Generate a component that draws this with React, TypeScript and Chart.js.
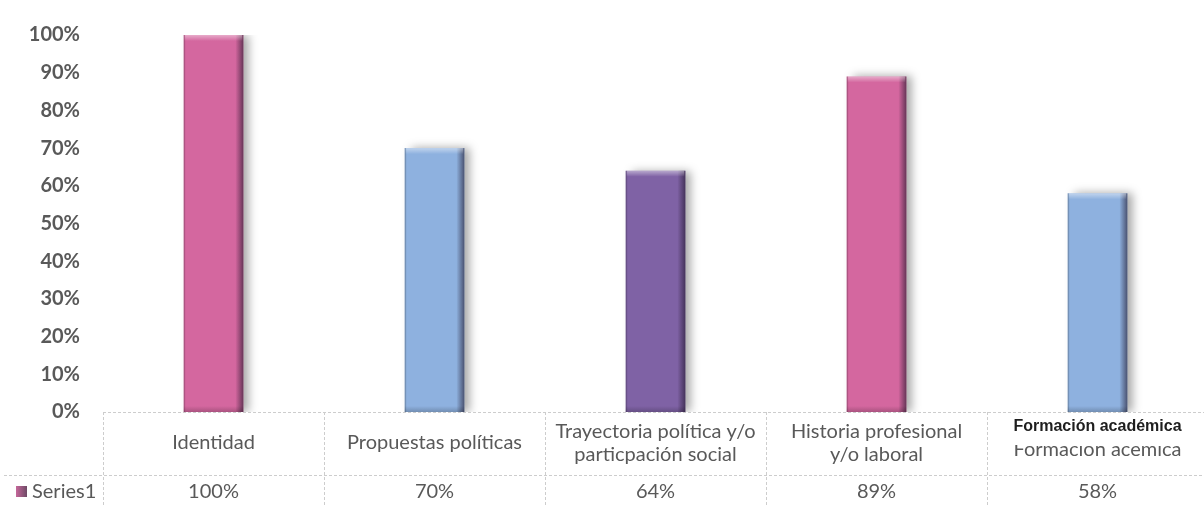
import React, { useEffect, useRef } from "react";
import { Chart, registerables } from "chart.js";

Chart.register(...registerables);

// ---- data ----
const categories: string[][] = [
  ["Identidad"],
  ["Propuestas políticas"],
  ["Trayectoria política y/o", "particpación social"],
  ["Historia profesional", "y/o laboral"],
  ["Formacion acemica"],
];
const overlayLabel = "Formación académica";
const seriesName = "Series1";
const values = [1.0, 0.7, 0.64, 0.89, 0.58];
const valueLabels = ["100%", "70%", "64%", "89%", "58%"];
const barColors = ["#D4679F", "#8EB1DF", "#7F62A5", "#D4679F", "#8EB1DF"];
const yTickLabels = ["0%", "10%", "20%", "30%", "40%", "50%", "60%", "70%", "80%", "90%", "100%"];

const TEXT = "#595959";
const FONT = "Lato, 'Open Sans', sans-serif";

const barStylePlugin = {
  id: "barStyle",
  beforeDatasetsDraw(chart: any) {
    const ctx = chart.ctx;
    ctx.save();
    ctx.shadowColor = "rgba(0,0,0,0.35)";
    ctx.shadowBlur = 9;
    ctx.shadowOffsetX = 6;
    ctx.shadowOffsetY = 0;
  },
  afterDatasetsDraw(chart: any) {
    const ctx = chart.ctx;
    ctx.restore();
    const meta = chart.getDatasetMeta(0);
    meta.data.forEach((el: any) => {
      const { x, y, base, width } = el.getProps(["x", "y", "base", "width"], true);
      const l = x - width / 2;
      const r = x + width / 2;
      // right dark edge
      const g = ctx.createLinearGradient(r - 8, 0, r, 0);
      g.addColorStop(0, "rgba(30,20,40,0)");
      g.addColorStop(1, "rgba(30,20,40,0.6)");
      ctx.fillStyle = g;
      ctx.fillRect(r - 8, y, 8, base - y);
      // left thin edge
      ctx.fillStyle = "rgba(0,0,0,0.18)";
      ctx.fillRect(l, y, 1.5, base - y);
      // top bevel
      const t = ctx.createLinearGradient(0, y, 0, y + 6);
      t.addColorStop(0, "rgba(255,255,255,0.45)");
      t.addColorStop(1, "rgba(255,255,255,0)");
      ctx.fillStyle = t;
      ctx.fillRect(l + 1, y, width - 2, 6);
      // bottom darker strip
      const b = ctx.createLinearGradient(0, base - 6, 0, base);
      b.addColorStop(0, "rgba(0,0,0,0)");
      b.addColorStop(1, "rgba(0,0,0,0.2)");
      ctx.fillStyle = b;
      ctx.fillRect(l, base - 6, width, 6);
    });
  },
};

const tablePlugin = {
  id: "dataTable",
  afterDraw(chart: any) {
    const ctx = chart.ctx;
    const xs = chart.scales.x;
    const area = chart.chartArea;
    const top = area.bottom;
    const rowSep = top + 63;
    const H = chart.height;
    const W = chart.width;
    ctx.save();
    ctx.strokeStyle = "#cdcdcd";
    ctx.lineWidth = 1;
    ctx.setLineDash([3, 2]);
    const hline = (y: number, x0: number, x1: number) => {
      ctx.beginPath();
      ctx.moveTo(x0, Math.round(y) + 0.5);
      ctx.lineTo(x1, Math.round(y) + 0.5);
      ctx.stroke();
    };
    const vline = (x: number, y0: number, y1: number) => {
      ctx.beginPath();
      ctx.moveTo(Math.round(x) + 0.5, y0);
      ctx.lineTo(Math.round(x) + 0.5, y1);
      ctx.stroke();
    };
    hline(top, xs.getPixelForValue(-0.5), W);
    hline(rowSep, 4, W);
    for (let i = 0; i <= categories.length; i++) {
      vline(xs.getPixelForValue(i - 0.5), top, H);
    }
    ctx.setLineDash([]);

    ctx.textAlign = "center";
    ctx.textBaseline = "middle";
    const last = categories.length - 1;
    categories.forEach((lines, i) => {
      const cx = xs.getPixelForValue(i);
      ctx.fillStyle = TEXT;
      ctx.font = `20px ${FONT}`;
      if (i === last) {
        ctx.fillText(lines[0], cx, top + 38);
        // pasted label box covering the top of the original label
        const l = xs.getPixelForValue(i - 0.5) + 2;
        ctx.fillStyle = "#ffffff";
        ctx.fillRect(l, top + 2, W - l, 31);
        ctx.fillStyle = "#1e1e1e";
        ctx.font = `bold 16px "Liberation Sans", Arial, sans-serif`;
        ctx.fillText(overlayLabel, cx, top + 15);
      } else if (lines.length === 1) {
        ctx.fillText(lines[0], cx, top + 31);
      } else {
        ctx.fillText(lines[0], cx, top + 20);
        ctx.fillText(lines[1], cx, top + 43);
      }
      ctx.fillStyle = TEXT;
      ctx.font = `20px ${FONT}`;
      ctx.fillText(valueLabels[i], cx, rowSep + 17);
    });

    // legend key
    const ky = rowSep + 11;
    const kg = ctx.createLinearGradient(16, 0, 27, 0);
    kg.addColorStop(0, "#C5679A");
    kg.addColorStop(1, "#6E4A66");
    ctx.fillStyle = kg;
    ctx.fillRect(16, ky, 11, 11);
    ctx.fillStyle = TEXT;
    ctx.textAlign = "left";
    ctx.font = `20px ${FONT}`;
    ctx.fillText(seriesName, 32, rowSep + 17);
    ctx.restore();
  },
};

export default function App() {
  const ref = useRef<HTMLCanvasElement | null>(null);

  useEffect(() => {
    document.body.style.margin = "0";
    const canvas = ref.current;
    if (!canvas) return;
    const chart = new Chart(canvas, {
      type: "bar",
      data: {
        labels: categories.map((c) => c.join(" ")),
        datasets: [
          {
            label: seriesName,
            data: values,
            backgroundColor: barColors,
            borderWidth: 0,
            barPercentage: 1,
            categoryPercentage: 0.27,
          },
        ],
      },
      options: {
        responsive: false,
        animation: false,
        devicePixelRatio: 1,
        layout: { padding: { top: 23, bottom: 93, left: 0, right: 4 } },
        plugins: {
          legend: { display: false },
          tooltip: { enabled: false },
        },
        scales: {
          x: { display: false },
          y: {
            min: 0,
            max: 1,
            afterFit: (s: any) => {
              s.width = 103;
            },
            ticks: {
              stepSize: 0.1,
              padding: 23,
              color: TEXT,
              font: { family: FONT, size: 20, weight: "bold" },
              callback: (_v: any, i: number) => yTickLabels[i],
            },
            grid: { display: false, drawTicks: false },
            border: { display: false },
          },
        },
      },
      plugins: [barStylePlugin, tablePlugin],
    });
    return () => chart.destroy();
  }, []);

  return (
    <div style={{ width: 1204, height: 505, overflow: "hidden", background: "#fff" }}>
      <canvas ref={ref} width={1212} height={505} style={{ display: "block" }} />
    </div>
  );
}
